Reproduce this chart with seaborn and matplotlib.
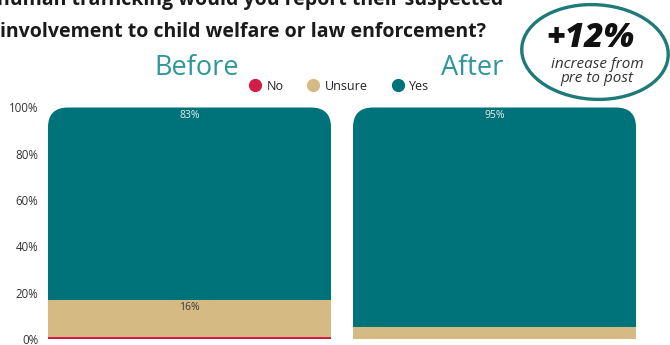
import matplotlib
matplotlib.use("Agg")
import matplotlib.pyplot as plt
from matplotlib.patches import FancyBboxPatch, Rectangle, Ellipse
from matplotlib.lines import Line2D
import seaborn as sns
import pandas as pd

# Survey responses (% of respondents)
periods = ["Before", "After"]
no_pct = [1, 0]
unsure_pct = [16, 5]
yes_pct = [83, 95]
y_ticks = [0, 20, 40, 60, 80, 100]
change_label = "+12%"

TEAL = "#00727A"
TAN = "#D6BA83"
RED = "#D31B47"
HEADER_TEAL = "#2F979A"

sns.set_theme(style="white")
plt.rcParams["font.family"] = ["Open Sans", "DejaVu Sans"]

df = pd.DataFrame({"period": periods, "No": no_pct, "Unsure": unsure_pct, "Yes": yes_pct})
df["no_top"] = df["No"]
df["unsure_top"] = df["No"] + df["Unsure"]
df["yes_top"] = df["No"] + df["Unsure"] + df["Yes"]

fig = plt.figure(figsize=(6.7, 3.45), dpi=100)
W, H = 670, 345
ax = fig.add_axes([44 / W, 6 / H, (640 - 44) / W, 231.5 / H])

BAR_W = 0.928
sns.barplot(data=df, x="period", y="yes_top", color=TEAL, width=BAR_W,
            saturation=1, linewidth=0, ax=ax, errorbar=None)

# Give the Yes segment rounded top corners
rx = 20 / 305.0
ry = 20 / 2.315
for rect in list(ax.containers[0]):
    x, y0 = rect.get_x(), rect.get_y()
    w, h = rect.get_width(), rect.get_height()
    rect.set_visible(False)
    ax.add_patch(FancyBboxPatch((x, y0), w, h,
                                boxstyle=f"round,pad=0,rounding_size={rx}",
                                mutation_aspect=ry / rx, fc=TEAL, ec="none"))
    ax.add_patch(Rectangle((x, y0), w, h / 2, fc=TEAL, ec="none"))

sns.barplot(data=df, x="period", y="unsure_top", color=TAN, width=BAR_W,
            saturation=1, linewidth=0, ax=ax, errorbar=None)
sns.barplot(data=df, x="period", y="no_top", color=RED, width=BAR_W,
            saturation=1, linewidth=0, ax=ax, errorbar=None)

ax.set_xlim(-0.477, 1.477)
ax.set_ylim(0, 100)
ax.set_xticks([])
ax.set_xlabel("")
ax.set_ylabel("")
ax.set_yticks(y_ticks)
ax.set_yticklabels([f"{t}%" for t in y_ticks], fontsize=8.3, color="#333333")
ax.tick_params(axis="y", length=0, pad=4)
for s in ax.spines.values():
    s.set_visible(False)
ax.grid(False)

# Segment value labels
for i, row in df.iterrows():
    ax.annotate(f"{row['Yes']}%", (i, row["yes_top"]), xytext=(0, -8),
                textcoords="offset pixels", ha="center", va="center",
                fontsize=7.5, color="#E6EEEE")
    if row["Unsure"] >= 10:
        ax.annotate(f"{row['Unsure']}%", (i, row["unsure_top"]), xytext=(0, -8),
                    textcoords="offset pixels", ha="center", va="center",
                    fontsize=7.5, color="#3A3A3A")

# Title (first line runs off the top edge)
fig.text(-3 / W, 1 - 5 / H, "human trafficking would you report their suspected",
         fontsize=14, fontweight="bold", color="#1A1A1A", ha="left", va="baseline")
fig.text(0 / W, 1 - 37 / H, "involvement to child welfare or law enforcement?",
         fontsize=14, fontweight="bold", color="#1A1A1A", ha="left", va="baseline")

# Period headers
fig.text(197 / W, 1 - 75 / H, periods[0], fontsize=19.5, fontweight="normal",
         color=HEADER_TEAL, ha="center", va="baseline")
fig.text(472 / W, 1 - 75 / H, periods[1], fontsize=19.5, fontweight="normal",
         color=HEADER_TEAL, ha="center", va="baseline")

# Legend
handles = [Line2D([], [], marker="o", ls="none", ms=8.5, mfc=c, mec=c)
           for c in (RED, TAN, TEAL)]
fig.legend(handles, ["No", "Unsure", "Yes"], loc="center",
           bbox_to_anchor=(339 / W, 1 - 86 / H), ncol=3, frameon=False,
           fontsize=9, handlelength=1.0, handletextpad=0.4, columnspacing=1.9,
           labelcolor="#222222")

# Change callout
fig.add_artist(Ellipse((595 / W, 1 - 52 / H), 146 / W, 95 / H, angle=6,
                       transform=fig.transFigure, fill=False, ec="#1D7A78", lw=2.4))
fig.text(590 / W, 1 - 38 / H, change_label, fontsize=24, fontweight="heavy",
         fontstyle="italic", color="#111111", ha="center", va="center")
fig.text(597 / W, 1 - 64 / H, "increase from", fontsize=11, fontstyle="italic",
         color="#333333", ha="center", va="center")
fig.text(597 / W, 1 - 79 / H, "pre to post", fontsize=11, fontstyle="italic",
         color="#333333", ha="center", va="center")

fig.savefig("out.png", dpi=100)
